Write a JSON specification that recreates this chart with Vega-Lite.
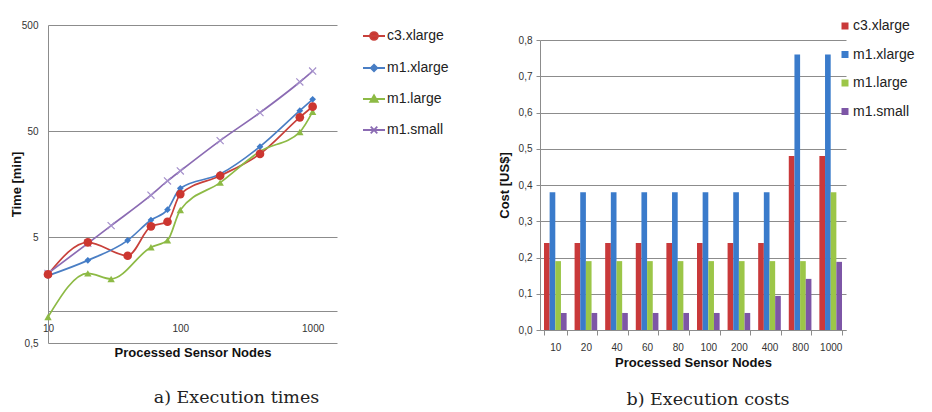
{
  "$schema": "https://vega.github.io/schema/vega-lite/v6.json",
  "background": "white",
  "padding": {"left": 10, "top": 19, "right": 0, "bottom": 0},
  "spacing": 49,
  "config": {
    "font": "Liberation Sans",
    "view": {"stroke": null},
    "axis": {"labelFont": "Liberation Sans", "labelFontSize": 10, "labelColor": "#333333", "titleFont": "Liberation Sans", "titleFontSize": 13, "titleFontWeight": "bold", "titleColor": "#111111", "domainColor": "#8c8c8c", "gridColor": "#8c8c8c", "tickColor": "#8c8c8c"},
    "legend": {"labelFont": "Liberation Sans", "labelFontSize": 14, "labelColor": "#222222"},
    "title": {"font": "DejaVu Serif", "fontSize": 17.5, "fontWeight": "normal", "color": "#222222"}
  },
  "resolve": {"scale": {"color": "independent", "stroke": "independent", "fill": "independent", "shape": "independent"}},
  "datasets": {
    "times": [
      {"n": 10, "t": 2.22, "s": "c3.xlarge"}, {"n": 20, "t": 4.45, "s": "c3.xlarge"}, {"n": 40, "t": 3.33, "s": "c3.xlarge"}, {"n": 60, "t": 6.3, "s": "c3.xlarge"}, {"n": 80, "t": 6.97, "s": "c3.xlarge"}, {"n": 100, "t": 12.7, "s": "c3.xlarge"}, {"n": 200, "t": 18.9, "s": "c3.xlarge"}, {"n": 400, "t": 30.4, "s": "c3.xlarge"}, {"n": 800, "t": 67.3, "s": "c3.xlarge"}, {"n": 1000, "t": 84.9, "s": "c3.xlarge"},
      {"n": 10, "t": 2.16, "s": "m1.xlarge"}, {"n": 20, "t": 3.01, "s": "m1.xlarge"}, {"n": 40, "t": 4.65, "s": "m1.xlarge"}, {"n": 60, "t": 7.23, "s": "m1.xlarge"}, {"n": 80, "t": 9.06, "s": "m1.xlarge"}, {"n": 100, "t": 14.4, "s": "m1.xlarge"}, {"n": 200, "t": 19.6, "s": "m1.xlarge"}, {"n": 400, "t": 35.6, "s": "m1.xlarge"}, {"n": 800, "t": 77.8, "s": "m1.xlarge"}, {"n": 1000, "t": 99.5, "s": "m1.xlarge"},
      {"n": 10, "t": 0.88, "s": "m1.large"}, {"n": 20, "t": 2.27, "s": "m1.large"}, {"n": 30, "t": 2.01, "s": "m1.large"}, {"n": 60, "t": 4.0, "s": "m1.large"}, {"n": 80, "t": 4.65, "s": "m1.large"}, {"n": 100, "t": 9.0, "s": "m1.large"}, {"n": 200, "t": 16.3, "s": "m1.large"}, {"n": 400, "t": 32.1, "s": "m1.large"}, {"n": 800, "t": 48.9, "s": "m1.large"}, {"n": 1000, "t": 76, "s": "m1.large"},
      {"n": 10, "t": 2.27, "s": "m1.small"}, {"n": 20, "t": 4.36, "s": "m1.small"}, {"n": 30, "t": 6.4, "s": "m1.small"}, {"n": 60, "t": 12.4, "s": "m1.small"}, {"n": 80, "t": 16.9, "s": "m1.small"}, {"n": 100, "t": 21, "s": "m1.small"}, {"n": 200, "t": 40.6, "s": "m1.small"}, {"n": 400, "t": 74.5, "s": "m1.small"}, {"n": 800, "t": 145, "s": "m1.small"}, {"n": 1000, "t": 184, "s": "m1.small"}
    ],
    "costs": [
      {"n": 10, "s": "c3.xlarge", "c": 0.24}, {"n": 10, "s": "m1.xlarge", "c": 0.38}, {"n": 10, "s": "m1.large", "c": 0.19}, {"n": 10, "s": "m1.small", "c": 0.047},
      {"n": 20, "s": "c3.xlarge", "c": 0.24}, {"n": 20, "s": "m1.xlarge", "c": 0.38}, {"n": 20, "s": "m1.large", "c": 0.19}, {"n": 20, "s": "m1.small", "c": 0.047},
      {"n": 40, "s": "c3.xlarge", "c": 0.24}, {"n": 40, "s": "m1.xlarge", "c": 0.38}, {"n": 40, "s": "m1.large", "c": 0.19}, {"n": 40, "s": "m1.small", "c": 0.047},
      {"n": 60, "s": "c3.xlarge", "c": 0.24}, {"n": 60, "s": "m1.xlarge", "c": 0.38}, {"n": 60, "s": "m1.large", "c": 0.19}, {"n": 60, "s": "m1.small", "c": 0.047},
      {"n": 80, "s": "c3.xlarge", "c": 0.24}, {"n": 80, "s": "m1.xlarge", "c": 0.38}, {"n": 80, "s": "m1.large", "c": 0.19}, {"n": 80, "s": "m1.small", "c": 0.047},
      {"n": 100, "s": "c3.xlarge", "c": 0.24}, {"n": 100, "s": "m1.xlarge", "c": 0.38}, {"n": 100, "s": "m1.large", "c": 0.19}, {"n": 100, "s": "m1.small", "c": 0.047},
      {"n": 200, "s": "c3.xlarge", "c": 0.24}, {"n": 200, "s": "m1.xlarge", "c": 0.38}, {"n": 200, "s": "m1.large", "c": 0.19}, {"n": 200, "s": "m1.small", "c": 0.047},
      {"n": 400, "s": "c3.xlarge", "c": 0.24}, {"n": 400, "s": "m1.xlarge", "c": 0.38}, {"n": 400, "s": "m1.large", "c": 0.19}, {"n": 400, "s": "m1.small", "c": 0.094},
      {"n": 800, "s": "c3.xlarge", "c": 0.48}, {"n": 800, "s": "m1.xlarge", "c": 0.76}, {"n": 800, "s": "m1.large", "c": 0.19}, {"n": 800, "s": "m1.small", "c": 0.141},
      {"n": 1000, "s": "c3.xlarge", "c": 0.48}, {"n": 1000, "s": "m1.xlarge", "c": 0.76}, {"n": 1000, "s": "m1.large", "c": 0.38}, {"n": 1000, "s": "m1.small", "c": 0.188}
    ]
  },
  "hconcat": [
    {
      "width": 289,
      "height": 318,
      "data": {"name": "times"},
      "title": {"text": "a) Execution times", "orient": "bottom", "anchor": "middle", "frame": "group", "dx": 44, "offset": 30},
      "encoding": {
        "x": {"field": "n", "type": "quantitative", "scale": {"type": "log", "domain": [10, 1528]}, "title": "Processed Sensor Nodes",
              "axis": {"values": [10, 100, 1000], "format": "d", "grid": false, "ticks": false, "offset": -32, "labelPadding": 12, "titlePadding": 13, "labelFlush": false}},
        "y": {"field": "t", "type": "quantitative", "scale": {"type": "log", "domain": [0.5, 500]}, "title": "Time [min]",
              "axis": {"values": [0.5, 5, 50, 500], "grid": true, "ticks": false, "labelPadding": 10, "titlePadding": -2, "labelExpr": "replace(datum.label, '.', ',')"}}
      },
      "layer": [
        {
          "mark": {"type": "line", "interpolate": "monotone", "strokeWidth": 1.7},
          "encoding": {
            "stroke": {"field": "s", "type": "nominal", "scale": {"domain": ["c3.xlarge", "m1.xlarge", "m1.large", "m1.small"], "range": ["#C8403A", "#4A7EC4", "#8DBA45", "#8B6BB3"]},
                       "legend": {"orient": "none", "legendX": 314, "legendY": -1, "title": null, "symbolSize": 484, "symbolStrokeWidth": 1.8, "rowPadding": 12, "labelOffset": 1, "labelFontSize": 14, "symbolOpacity": 1}}
          }
        },
        {
          "transform": [{"filter": "datum.s === 'm1.small'"}],
          "mark": {"type": "point", "shape": "M-1,-1L1,1M1,-1L-1,1", "filled": false, "size": 50, "stroke": "#A48FCB", "strokeWidth": 1.2, "opacity": 1}
        },
        {
          "transform": [{"filter": "datum.s === 'm1.large'"}],
          "mark": {"type": "point", "shape": "triangle-up", "filled": true, "size": 55, "fill": "#8DBA45", "opacity": 1}
        },
        {
          "transform": [{"filter": "datum.s === 'm1.xlarge'"}],
          "mark": {"type": "point", "shape": "diamond", "filled": true, "size": 45, "fill": "#3F7BC8", "opacity": 1}
        },
        {
          "transform": [{"filter": "datum.s === 'c3.xlarge'"}],
          "mark": {"type": "point", "shape": "circle", "filled": true, "size": 75, "fill": "#CC3630", "opacity": 1}
        },
        {
          "mark": {"type": "point", "filled": true, "size": 0},
          "encoding": {
            "shape": {"field": "s", "type": "nominal",
                      "scale": {"domain": ["c3.xlarge", "m1.xlarge", "m1.large", "m1.small"], "range": ["M-1,0H1M-0.36,0A0.36,0.36 0 1,0 0.36,0A0.36,0.36 0 1,0 -0.36,0Z", "M-1,0H1M0,-0.3L0.3,0L0,0.3L-0.3,0Z", "M-1,0H1M0,-0.34L0.34,0.26L-0.34,0.26Z", "M-1,0H1M-0.3,-0.3L0.3,0.3M0.3,-0.3L-0.3,0.3"]},
                      "legend": {"orient": "none", "legendX": 314, "legendY": -1, "title": null, "symbolSize": 484, "symbolStrokeWidth": 1.8, "rowPadding": 12, "labelOffset": 1, "labelFontSize": 14, "symbolOpacity": 1}},
            "fill": {"field": "s", "type": "nominal", "scale": {"domain": ["c3.xlarge", "m1.xlarge", "m1.large", "m1.small"], "range": ["#CC3630", "#3F7BC8", "#8DBA45", "#A48FCB"]},
                     "legend": {"orient": "none", "legendX": 314, "legendY": -1, "title": null, "symbolSize": 484, "symbolStrokeWidth": 1.8, "rowPadding": 12, "labelOffset": 1, "labelFontSize": 14, "symbolOpacity": 1}},
            "stroke": {"field": "s", "type": "nominal", "scale": {"domain": ["c3.xlarge", "m1.xlarge", "m1.large", "m1.small"], "range": ["#C8403A", "#4A7EC4", "#8DBA45", "#8B6BB3"]},
                       "legend": {"orient": "none", "legendX": 314, "legendY": -1, "title": null, "symbolSize": 484, "symbolStrokeWidth": 1.8, "rowPadding": 12, "labelOffset": 1, "labelFontSize": 14, "symbolOpacity": 1}}
          }
        }
      ]
    },
    {
      "bounds": "flush",
      "spacing": 14,
      "vconcat": [
        {
          "width": 306,
          "height": 1,
          "data": {"values": []},
          "mark": {"type": "point", "opacity": 0},
          "encoding": {}
        },
        {
          "width": 306,
          "height": 290,
          "data": {"name": "costs"},
          "title": {"text": "b) Execution costs", "orient": "bottom", "anchor": "middle", "frame": "group", "dx": 15, "offset": 22},
          "mark": {"type": "bar"},
          "encoding": {
            "x": {"field": "n", "type": "ordinal", "title": "Processed Sensor Nodes",
                  "scale": {"paddingInner": 0.26, "paddingOuter": 0.13},
                  "axis": {"labelAngle": 0, "tickBand": "extent", "tickSize": 5, "labelPadding": 7, "titlePadding": 4}},
            "xOffset": {"field": "s", "type": "nominal", "scale": {"domain": ["c3.xlarge", "m1.xlarge", "m1.large", "m1.small"]}},
            "y": {"field": "c", "type": "quantitative", "title": "Cost [US$]",
                  "scale": {"domain": [0, 0.8]},
                  "axis": {"values": [0, 0.1, 0.2, 0.3, 0.4, 0.5, 0.6, 0.7, 0.8], "grid": true, "tickSize": 4, "labelPadding": 4, "titlePadding": 7, "labelExpr": "replace(format(datum.value, '.1f'), '.', ',')"}},
            "color": {"field": "s", "type": "nominal",
                      "scale": {"domain": ["c3.xlarge", "m1.xlarge", "m1.large", "m1.small"], "range": ["#C9393A", "#3A7BCB", "#9CC648", "#7D56A6"]},
                      "legend": {"orient": "none", "legendX": 298, "legendY": -6, "title": null, "symbolType": "square", "symbolSize": 49, "rowPadding": 14.5, "labelOffset": 1, "labelFontSize": 14}}
          }
        }
      ]
    }
  ]
}
